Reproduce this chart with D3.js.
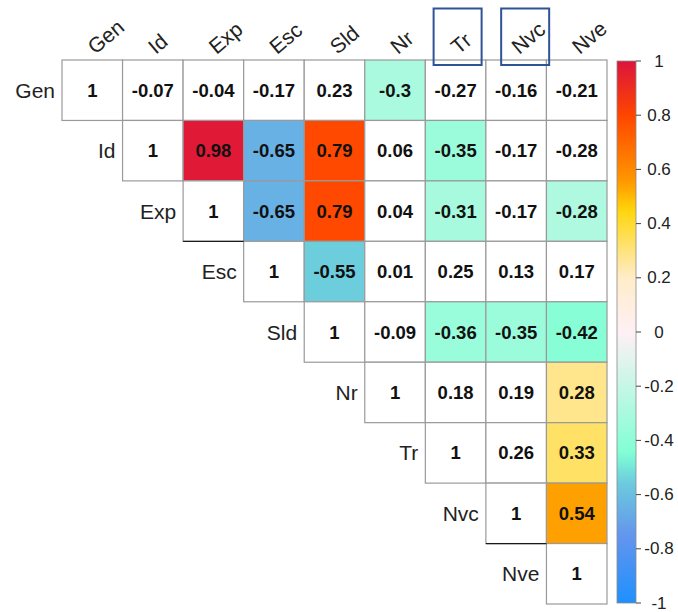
<!DOCTYPE html>
<html>
<head>
<meta charset="utf-8">
<script src="https://cdn.jsdelivr.net/npm/d3@7"></script>
<style>
  html, body { margin: 0; padding: 0; background: #fff; }
  svg { display: block; font-family: Arial, "Liberation Sans", sans-serif; }
</style>
</head>
<body>
<svg id="chart" width="678" height="612"></svg>
<script>
// Variables of the correlation matrix
const variables = ["Gen", "Id", "Exp", "Esc", "Sld", "Nr", "Tr", "Nvc", "Nve"];

// Upper triangle (including the diagonal), one array per row
const rowGen = [1, -0.07, -0.04, -0.17, 0.23, -0.3, -0.27, -0.16, -0.21];
const rowId  = [1, 0.98, -0.65, 0.79, 0.06, -0.35, -0.17, -0.28];
const rowExp = [1, -0.65, 0.79, 0.04, -0.31, -0.17, -0.28];
const rowEsc = [1, -0.55, 0.01, 0.25, 0.13, 0.17];
const rowSld = [1, -0.09, -0.36, -0.35, -0.42];
const rowNr  = [1, 0.18, 0.19, 0.28];
const rowTr  = [1, 0.26, 0.33];
const rowNvc = [1, 0.54];
const rowNve = [1];
const matrixRows = [rowGen, rowId, rowExp, rowEsc, rowSld, rowNr, rowTr, rowNvc, rowNve];

// Significant pairs (cells that are filled with colour)
const significantPairs = [
  ["Gen", "Nr"],
  ["Id", "Exp"], ["Id", "Esc"], ["Id", "Sld"], ["Id", "Tr"],
  ["Exp", "Esc"], ["Exp", "Sld"], ["Exp", "Tr"], ["Exp", "Nve"],
  ["Esc", "Sld"],
  ["Sld", "Tr"], ["Sld", "Nvc"], ["Sld", "Nve"],
  ["Nr", "Nve"], ["Tr", "Nve"], ["Nvc", "Nve"]
];

// Highlighted column headers
const boxedColumns = ["Tr", "Nvc"];

// Colour bar ticks
const legendTicks = [1, 0.8, 0.6, 0.4, 0.2, 0, -0.2, -0.4, -0.6, -0.8, -1];

// Diverging palette
const paletteStops  = [-1, -0.75, -0.55, -0.45, 0, 0.2, 0.45, 0.55, 0.8, 1];
const paletteColors = ["#1e90ff", "#6495ed", "#6ccddd", "#7fffd4", "#fff0f5",
                       "#ffecc8", "#ffd60a", "#ff9a00", "#ff4500", "#dc143c"];

const svg = d3.select("#chart");

const x = d3.scaleBand().domain(variables).range([62, 607]).padding(0);
const y = d3.scaleBand().domain(variables).range([60, 604]).padding(0);
const color = d3.scaleLinear().domain(paletteStops).range(paletteColors)
  .interpolate(d3.interpolateRgb);

const sigSet = new Set(significantPairs.map(p => p.join("|")));

const cells = [];
matrixRows.forEach((row, i) => {
  row.forEach((v, k) => {
    const r = variables[i], c = variables[i + k];
    cells.push({ r, c, v, sig: sigSet.has(r + "|" + c) });
  });
});

// Cells
const g = svg.append("g");
g.selectAll("rect.cell")
  .data(cells)
  .join("rect")
  .attr("class", "cell")
  .attr("x", d => x(d.c))
  .attr("y", d => y(d.r))
  .attr("width", x.bandwidth())
  .attr("height", y.bandwidth())
  .attr("fill", d => d.sig ? color(d.v) : "#ffffff")
  .attr("stroke", "#9a9a9a")
  .attr("stroke-width", 1.2);

// Darker edges below two diagonal cells
const darkEdges = ["Exp", "Nvc"];
g.selectAll("line.edge")
  .data(darkEdges)
  .join("line")
  .attr("class", "edge")
  .attr("x1", d => x(d)).attr("x2", d => x(d) + x.bandwidth())
  .attr("y1", d => y(d) + y.bandwidth()).attr("y2", d => y(d) + y.bandwidth())
  .attr("stroke", "#1a1a1a").attr("stroke-width", 1.3);

// Cell values
g.selectAll("text.val")
  .data(cells)
  .join("text")
  .attr("class", "val")
  .attr("x", d => x(d.c) + x.bandwidth() / 2)
  .attr("y", d => y(d.r) + y.bandwidth() / 2)
  .attr("text-anchor", "middle")
  .attr("dominant-baseline", "central")
  .attr("font-size", 18.5)
  .attr("font-weight", "bold")
  .attr("fill", "#111")
  .text(d => String(d.v));

// Row labels, left of the diagonal cell
svg.selectAll("text.rowlab")
  .data(variables)
  .join("text")
  .attr("class", "rowlab")
  .attr("x", d => x(d) - 7)
  .attr("y", d => y(d) + y.bandwidth() / 2)
  .attr("text-anchor", "end")
  .attr("dominant-baseline", "central")
  .attr("font-size", 21)
  .attr("fill", "#222")
  .text(d => d);

// Column labels, rotated
svg.selectAll("text.collab")
  .data(variables)
  .join("text")
  .attr("class", "collab")
  .attr("transform", d => `translate(${x(d) + x.bandwidth() / 2 + 3},55) rotate(-40)`)
  .attr("text-anchor", "start")
  .attr("font-size", 21)
  .attr("fill", "#222")
  .text(d => d);

// Boxes around highlighted headers
const boxOffset = { Tr: -22, Nvc: -15 };
svg.selectAll("rect.hbox")
  .data(boxedColumns)
  .join("rect")
  .attr("class", "hbox")
  .attr("x", d => x(d) + x.bandwidth() / 2 + boxOffset[d])
  .attr("y", 8.5)
  .attr("width", 48)
  .attr("height", 56.5)
  .attr("fill", "none")
  .attr("stroke", "#2f5496")
  .attr("stroke-width", 2);

// Colour bar
const barScale = d3.scaleLinear().domain([-1, 1]).range([603, 61]);
const defs = svg.append("defs");
const grad = defs.append("linearGradient")
  .attr("id", "cbar")
  .attr("x1", 0).attr("y1", 1).attr("x2", 0).attr("y2", 0);
grad.selectAll("stop")
  .data(d3.range(0, 1.0001, 0.02))
  .join("stop")
  .attr("offset", t => t)
  .attr("stop-color", t => color(-1 + 2 * t));

svg.append("rect")
  .attr("x", 617)
  .attr("y", barScale(1))
  .attr("width", 19)
  .attr("height", barScale(-1) - barScale(1))
  .attr("fill", "url(#cbar)")
  .attr("stroke", "#8a8a8a")
  .attr("stroke-width", 0.8);

const axis = svg.append("g");
axis.selectAll("line")
  .data(legendTicks)
  .join("line")
  .attr("x1", 636).attr("x2", 641)
  .attr("y1", d => barScale(d)).attr("y2", d => barScale(d))
  .attr("stroke", "#444").attr("stroke-width", 1);
axis.selectAll("text")
  .data(legendTicks)
  .join("text")
  .attr("x", 659)
  .attr("y", d => barScale(d))
  .attr("text-anchor", "middle")
  .attr("dominant-baseline", "central")
  .attr("font-size", 17)
  .attr("fill", "#222")
  .text(d => String(d));
</script>
</body>
</html>
